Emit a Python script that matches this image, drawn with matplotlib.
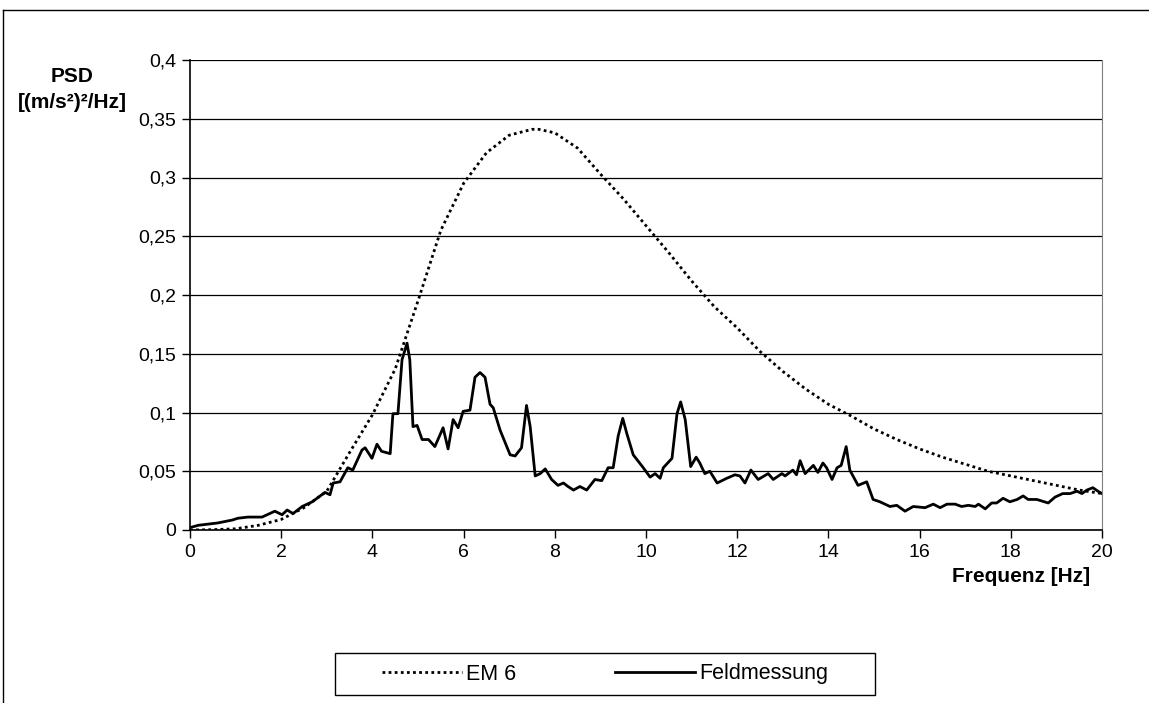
import matplotlib
matplotlib.use("Agg")
import matplotlib.pyplot as plt
from matplotlib.lines import Line2D
from matplotlib.patches import Rectangle
from matplotlib.ticker import FuncFormatter

plt.rcParams['font.family'] = ['Liberation Sans', 'DejaVu Sans']

# EM 6 reference spectrum
em6_f = [0.0, 0.5, 1.0, 1.5, 2.0, 2.5, 3.0, 3.5, 4.0, 4.5, 5.0, 5.5, 6.0, 6.5,
         7.0, 7.5, 7.65, 8.0, 8.5, 9.0, 9.5, 10.0, 10.5, 11.0, 11.5, 12.0,
         12.5, 13.0, 13.5, 14.0, 14.5, 15.0, 15.5, 16.0, 16.5, 17.0, 17.5,
         18.0, 18.5, 19.0, 19.5, 20.0]
em6_psd = [0.0, 0.0003, 0.001, 0.004, 0.009, 0.019, 0.033, 0.066, 0.098, 0.137,
           0.195, 0.255, 0.295, 0.321, 0.336, 0.341, 0.341, 0.338, 0.325, 0.303,
           0.282, 0.259, 0.236, 0.212, 0.190, 0.172, 0.152, 0.135, 0.120, 0.107,
           0.097, 0.086, 0.077, 0.069, 0.062, 0.056, 0.050, 0.046, 0.042, 0.038,
           0.034, 0.031]

# field measurement
feld_f = [0.0, 0.18, 0.61, 0.93, 1.05, 1.27, 1.58, 1.86, 2.02, 2.13, 2.26, 2.46,
          2.68, 2.96, 3.07, 3.14, 3.29, 3.46, 3.57, 3.77, 3.84, 3.99, 4.10, 4.20,
          4.39, 4.45, 4.56, 4.65, 4.76, 4.82, 4.89, 4.98, 5.09, 5.23, 5.37, 5.55,
          5.66, 5.77, 5.88, 5.99, 6.14, 6.25, 6.36, 6.47, 6.58, 6.65, 6.80, 7.02,
          7.13, 7.27, 7.38, 7.46, 7.57, 7.68, 7.79, 7.93, 8.07, 8.19, 8.29, 8.41,
          8.55, 8.70, 8.88, 9.03, 9.17, 9.28, 9.39, 9.49, 9.58, 9.72, 9.94, 10.09,
          10.20, 10.31, 10.38, 10.57, 10.68, 10.76, 10.86, 10.98, 11.10, 11.18,
          11.29, 11.40, 11.56, 11.77, 11.95, 12.06, 12.17, 12.30, 12.46, 12.68,
          12.79, 12.98, 13.05, 13.22, 13.30, 13.38, 13.49, 13.67, 13.77, 13.88,
          13.96, 14.08, 14.19, 14.28, 14.39, 14.47, 14.65, 14.84, 14.98, 15.13,
          15.35, 15.50, 15.68, 15.86, 16.12, 16.30, 16.45, 16.60, 16.78, 16.92,
          17.07, 17.22, 17.29, 17.44, 17.58, 17.69, 17.83, 17.98, 18.14, 18.27,
          18.38, 18.57, 18.82, 18.97, 19.14, 19.30, 19.45, 19.56, 19.67, 19.80,
          19.91, 20.00]
feld_psd = [0.002, 0.004, 0.006, 0.0085, 0.010, 0.011, 0.011, 0.016, 0.013, 0.017,
            0.014, 0.020, 0.024, 0.032, 0.030, 0.040, 0.041, 0.053, 0.051, 0.068,
            0.070, 0.061, 0.073, 0.067, 0.065, 0.099, 0.099, 0.145, 0.159, 0.145,
            0.088, 0.089, 0.077, 0.077, 0.071, 0.087, 0.069, 0.094, 0.087, 0.101,
            0.102, 0.130, 0.134, 0.130, 0.107, 0.104, 0.085, 0.064, 0.063, 0.070,
            0.106, 0.088, 0.046, 0.048, 0.052, 0.043, 0.038, 0.040, 0.037, 0.034,
            0.037, 0.034, 0.043, 0.042, 0.053, 0.053, 0.080, 0.095, 0.082, 0.064,
            0.053, 0.045, 0.048, 0.044, 0.053, 0.061, 0.099, 0.109, 0.094, 0.054,
            0.062, 0.057, 0.048, 0.050, 0.040, 0.044, 0.047, 0.046, 0.040, 0.051,
            0.043, 0.048, 0.043, 0.048, 0.046, 0.051, 0.047, 0.059, 0.048, 0.055,
            0.049, 0.057, 0.053, 0.043, 0.053, 0.055, 0.071, 0.051, 0.038, 0.041,
            0.026, 0.024, 0.020, 0.021, 0.016, 0.020, 0.019, 0.022, 0.019, 0.022,
            0.022, 0.020, 0.021, 0.020, 0.022, 0.018, 0.023, 0.023, 0.027, 0.024,
            0.026, 0.029, 0.026, 0.026, 0.023, 0.028, 0.031, 0.031, 0.033, 0.031,
            0.034, 0.036, 0.033, 0.031]

x_ticks = list(range(0, 21, 2))
y_ticks = [0, 0.05, 0.1, 0.15, 0.2, 0.25, 0.3, 0.35, 0.4]

W, H = 1149, 703
fig = plt.figure(figsize=(W / 100, H / 100), dpi=100)
ax = fig.add_axes([190 / W, 1 - 530 / H, 912 / W, 470 / H])

ax.plot(em6_f, em6_psd, color='black', lw=2, linestyle=(0, (1, 1.2)), label='EM 6')
ax.plot(feld_f, feld_psd, color='black', lw=2, label='Feldmessung')

ax.set_xlim(0, 20)
ax.set_ylim(0, 0.4)
ax.set_xticks(x_ticks)
ax.set_yticks(y_ticks)
ax.yaxis.set_major_formatter(FuncFormatter(lambda v, p: f'{v:g}'.replace('.', ',')))
ax.tick_params(labelsize=14, direction='out', length=6, width=1, color='black', pad=4)
ax.grid(axis='y', color='black', lw=0.9)
ax.set_axisbelow(True)
ax.spines['top'].set_visible(False)
ax.spines['right'].set_color('#808080')
for s in ('left', 'bottom'):
    ax.spines[s].set_linewidth(1.2)

fig.text(72 / W, 1 - 76 / H, 'PSD', ha='center', va='center',
         fontsize=15, fontweight='bold')
fig.text(72 / W, 1 - 103 / H, '[(m/s²)²/Hz]', ha='center', va='center',
         fontsize=15, fontweight='bold')
fig.text(1090 / W, 1 - 576 / H, 'Frequenz [Hz]', ha='right', va='center',
         fontsize=15, fontweight='bold')

# legend box drawn by hand, entries centred inside it
fig.add_artist(Rectangle((335 / W, 1 - 695 / H), 540 / W, 42 / H, transform=fig.transFigure,
                         fill=False, edgecolor='black', lw=1))
fig.legend(loc='center', bbox_to_anchor=(605 / W, 1 - 674 / H), ncol=2,
           fontsize=15.5, frameon=False, handlelength=3.7,
           columnspacing=4.6, borderpad=0.2, handletextpad=0.2)

# outer chart border
fig.add_artist(Line2D([3 / W, 3 / W], [0, 1 - 10 / H], color='black', lw=1))
fig.add_artist(Line2D([3 / W, 1], [1 - 10 / H, 1 - 10 / H], color='black', lw=1))

fig.savefig('out.png', dpi=100)
